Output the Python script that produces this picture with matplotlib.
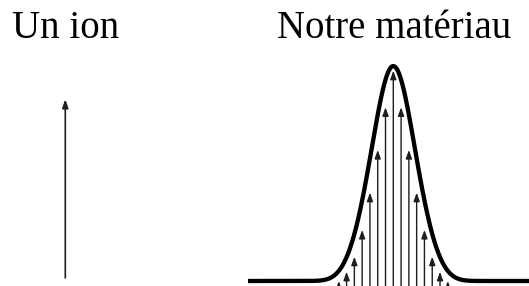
import numpy as np
import matplotlib
matplotlib.use("Agg")
import matplotlib.pyplot as plt

# -------------------------- DATA ----------------------------
titles = ["Un ion", "Notre matériau"]
ion_position = [0.0]
ion_intensity = [1.0]

# stick spectrum of the material (relative to the central line)
stick_positions = np.arange(-7, 8)
stick_intensities = [0.0, 0.044, 0.116, 0.243, 0.42, 0.623, 0.826, 1.0,
                     0.826, 0.623, 0.42, 0.243, 0.116, 0.044, 0.0]
stick_base = -0.05
envelope_peak = 1.022
broadening = 1.55   # in stick spacings

# -------------------------- FIGURE ----------------------------
W, H = 529, 286
DPI = 100
fig = plt.figure(figsize=(W / DPI, H / DPI), dpi=DPI)
fig.patch.set_facecolor("white")

arrow_kw = dict(arrowstyle="-|>,head_length=0.5,head_width=0.18",
                color="#1e1e1e", lw=1.0, shrinkA=0, shrinkB=0)

# left panel: single ion
ax_l = fig.add_axes([0, 0, 130.6 / W, 1])
ax_l.set_xlim(-1, 1)
ax_l.set_ylim(-8 / 178.7, 278 / 178.7)
for x, h in zip(ion_position, ion_intensity):
    ax_l.annotate("", xy=(x, h), xytext=(x, 0),
                  arrowprops=dict(arrow_kw, lw=1.2))
ax_l.axis("off")

# right panel: material
x0, x1 = 240, 529
ax_r = fig.add_axes([x0 / W, 0, (x1 - x0) / W, 1])
spacing = 7.786
center = 393.3
ax_r.set_xlim((x0 - center) / spacing, (x1 - center) / spacing)
ax_r.set_ylim(-5 / 210.3, 281 / 210.3)

for x, h in zip(stick_positions, stick_intensities):
    ax_r.annotate("", xy=(x, h), xytext=(x, stick_base),
                  arrowprops=arrow_kw, annotation_clip=False)

# broadened envelope from the sticks
xx = np.linspace((248 - center) / spacing, (x1 - center) / spacing + 1, 800)
env = np.zeros_like(xx)
for x, h in zip(stick_positions, stick_intensities):
    env += h * np.exp(-(xx - x) ** 2 / (2 * broadening ** 2))
env = env / env.max() * envelope_peak
ax_r.plot(xx, env, color="black", lw=3.1, solid_capstyle="butt",
          solid_joinstyle="round", zorder=5)
ax_r.axis("off")

# titles
font = dict(family="Liberation Serif", size=28, color="black")
fig.text(12 / W, 1 - 37.5 / H, titles[0], va="baseline", ha="left", **font)
fig.text(277 / W, 1 - 37.5 / H, titles[1], va="baseline", ha="left", **font)

fig.savefig("out.png", dpi=DPI, facecolor="white")
